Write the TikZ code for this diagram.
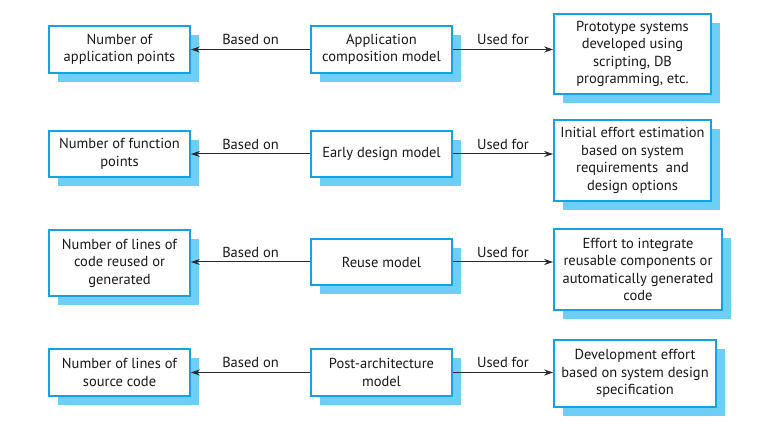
\documentclass[tikz,border=0pt]{standalone}
\usepackage{fontspec}
\setmainfont{PT Sans}
\usetikzlibrary{shadows,arrows.meta}
\definecolor{boxblue}{HTML}{12A3E3}
\definecolor{shadowblue}{HTML}{6DCFF6}
\definecolor{linegray}{HTML}{2A2A2A}
\tikzset{
  box/.style={draw=boxblue, line width=1.6pt, fill=white, align=center,
    inner sep=0pt, font=\fontsize{14.5}{17.5}\selectfont, text=black!90,
    drop shadow={shadow xshift=9pt, shadow yshift=-9pt, fill=shadowblue, opacity=1, draw=none}},
  conn/.style={draw=linegray, line width=1pt, -{Stealth[length=9pt,width=6pt]}},
  lbl/.style={font=\fontsize{14.5}{15}\selectfont, text=black!90, inner sep=0pt}
}
\begin{document}
\begin{tikzpicture}[x=1pt,y=-1pt]
\useasboundingbox (0,0) rectangle (770,427);
% row 1
\node[box, minimum width=141pt, minimum height=47pt] (l1) at (119.5,49.5) {Number of\\application points};
\node[box, minimum width=141pt, minimum height=47pt] (m1) at (381.5,49.5) {Application\\composition model};
\node[box, minimum width=157pt, minimum height=80pt] (r1) at (632.5,54) {Prototype systems\\developed using\\scripting, DB\\programming, etc.};
% row 2
\node[box, minimum width=141pt, minimum height=46pt] (l2) at (119.5,154) {Number of function\\points};
\node[box, minimum width=141pt, minimum height=46pt] (m2) at (381.5,154) {Early design model};
\node[box, minimum width=157pt, minimum height=81pt] (r2) at (632.5,160.5) {Initial effort estimation\\based on system\\requirements\ \ and\\design options};
% row 3
\node[box, minimum width=141pt, minimum height=66pt] (l3) at (119.5,263) {Number of lines of\\code reused or\\generated};
\node[box, minimum width=141pt, minimum height=46pt] (m3) at (381.5,262) {Reuse model};
\node[box, minimum width=168pt, minimum height=81pt] (r3) at (638,269.5) {Effort to integrate\\reusable components or\\automatically generated\\code};
% row 4
\node[box, minimum width=141pt, minimum height=47pt] (l4) at (119.5,372.5) {Number of lines of\\source code};
\node[box, minimum width=141pt, minimum height=47pt] (m4) at (381.5,372.5) {Post-architecture\\model};
\node[box, minimum width=162pt, minimum height=67pt] (r4) at (635,373.5) {Development effort\\based on system design\\specification};
% connectors
\foreach \i in {1,2,3,4}{
  \draw[conn] (m\i.west) -- (m\i.west -| l\i.east) node[lbl, midway, above=4pt] {Based on};
  \draw[conn] (m\i.east) -- (m\i.east -| r\i.west) node[lbl, midway, above=4pt] {Used for};
}
\end{tikzpicture}
\end{document}
